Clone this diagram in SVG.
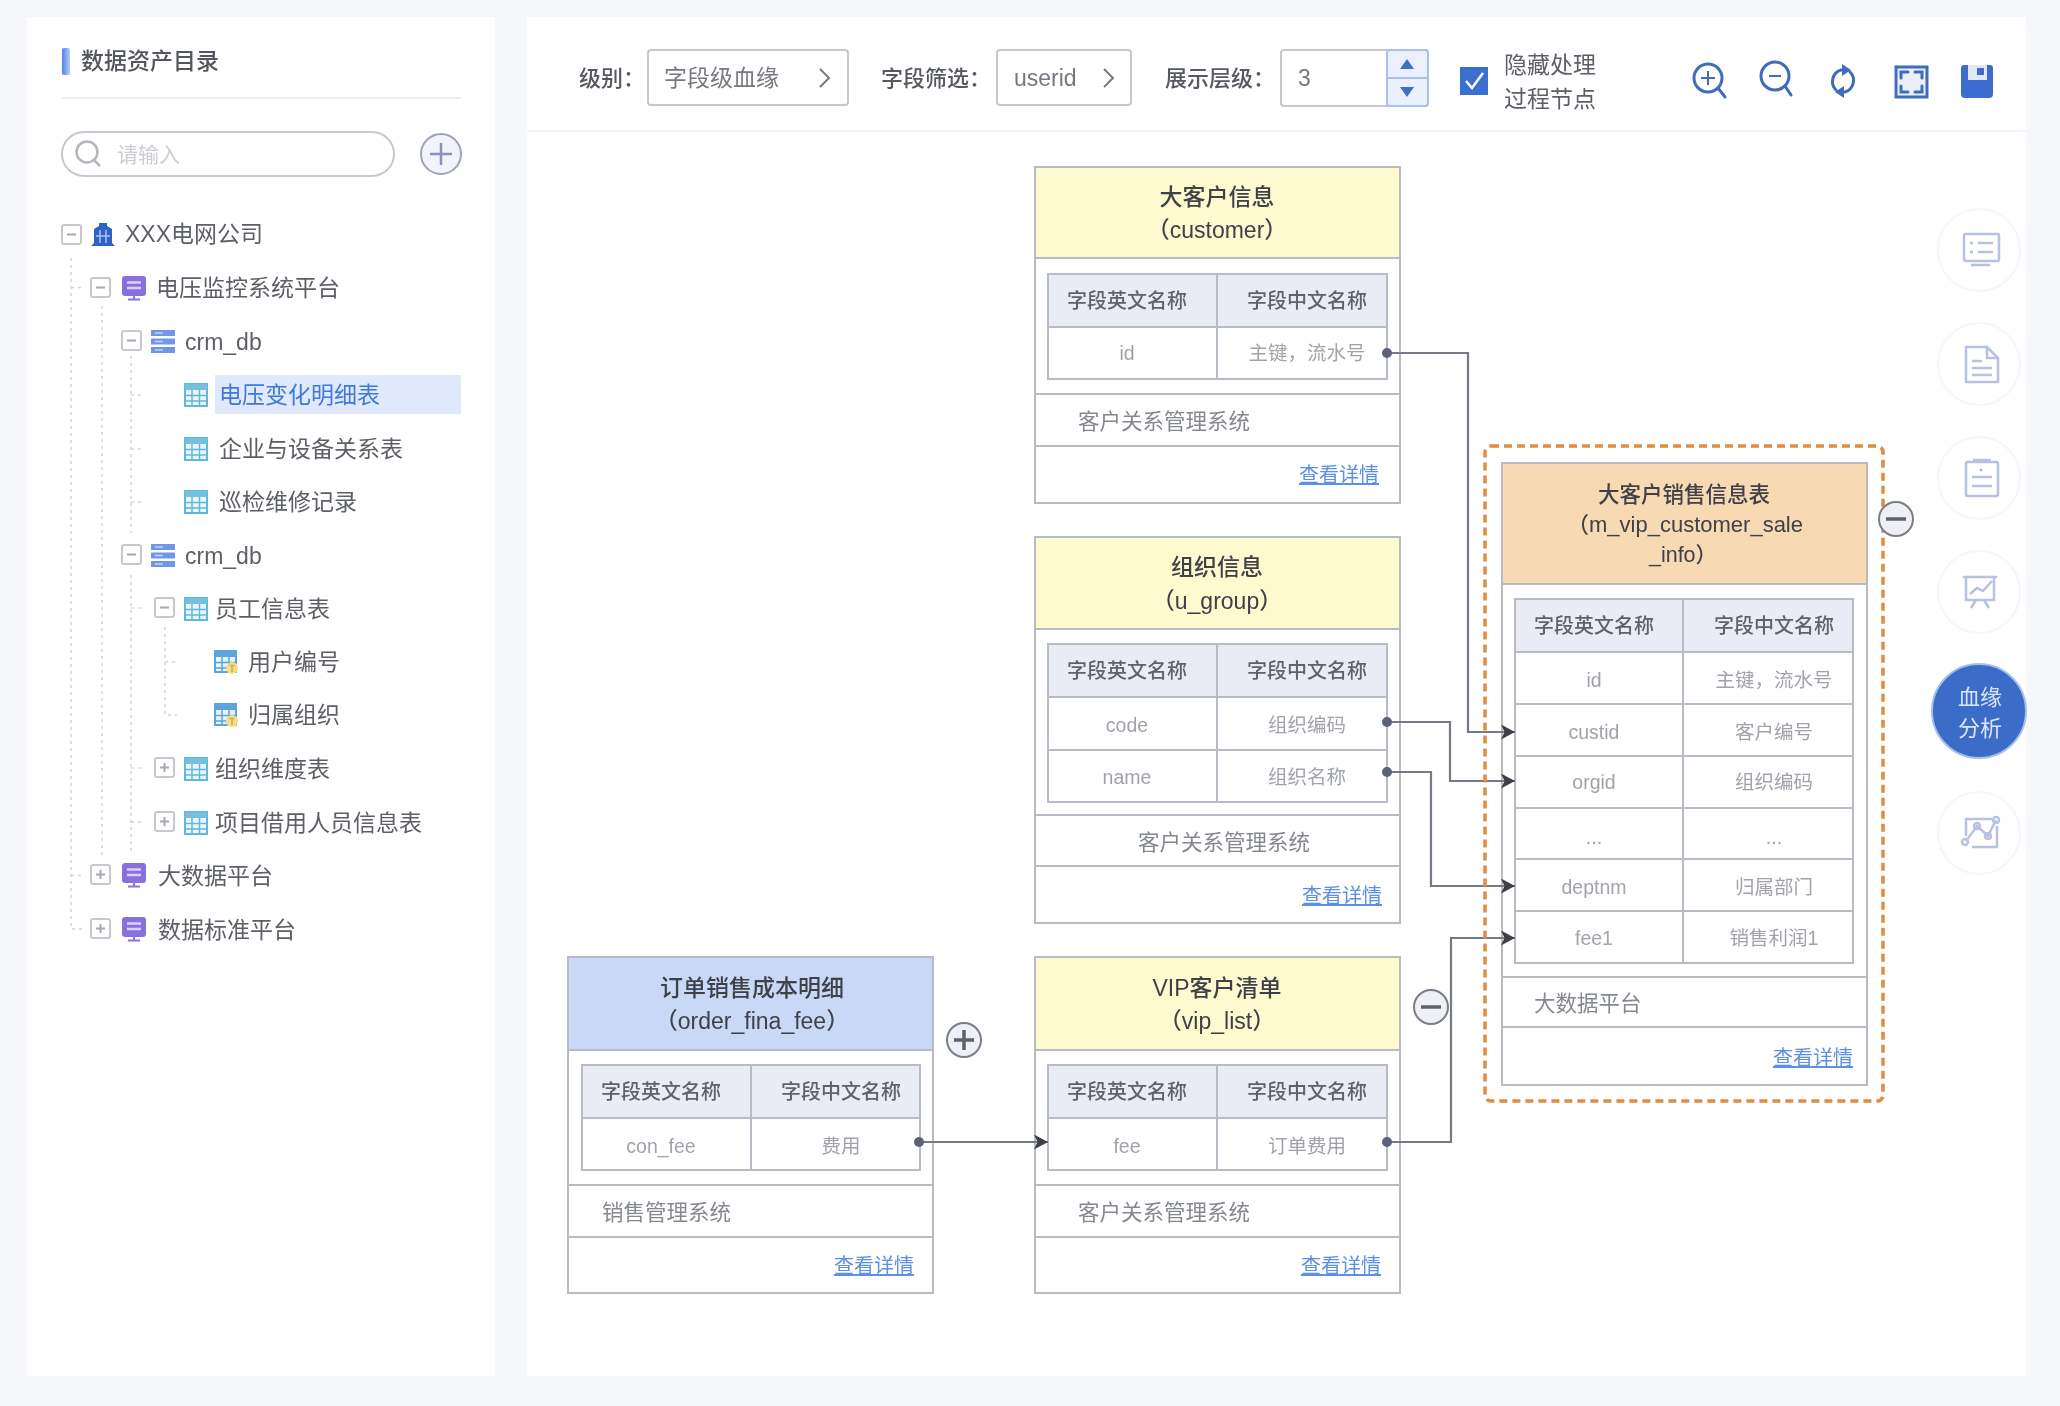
<svg xmlns="http://www.w3.org/2000/svg" width="2060" height="1406" viewBox="0 0 2060 1406">
<style>
text{font-family:"Liberation Sans","Noto Sans CJK SC",sans-serif;}
.t23{font-size:23px;fill:#5c5f66;}
.lbl{font-size:22px;fill:#55585f;font-weight:500;}
.sel{font-size:23px;fill:#75787f;}
.title{font-size:23px;fill:#3f4147;font-weight:500;text-anchor:middle;}
.title2{font-size:21.5px;fill:#3f4147;font-weight:500;text-anchor:middle;}
.th{font-size:20px;fill:#5f626a;font-weight:500;text-anchor:middle;}
.td{font-size:19.5px;fill:#a0a3aa;text-anchor:middle;}
.sys{font-size:21.5px;fill:#85888f;}
.link{font-size:20px;fill:#5b8fe6;text-decoration:underline;}
.card{fill:#fff;stroke:#b9bbc3;stroke-width:2;}
.line{stroke:#b9bbc4;stroke-width:2;fill:none;}
.thbg{fill:#e9ecf5;}
.yellow{fill:#fdfad0;}
.conn{fill:none;stroke:#757988;stroke-width:2.2;marker-end:url(#arrow);marker-start:url(#dot);}
.dash{fill:none;stroke:#d4d6dc;stroke-width:1.5;stroke-dasharray:3 4;}
.boxi{fill:#fff;stroke:#c6c8ce;stroke-width:2;}
.boxs{stroke:#a5a8b0;stroke-width:2;fill:none;}
.tool{fill:none;stroke:#3f6cbc;stroke-width:3;stroke-linecap:round;}
.side{fill:#fff;stroke:#f6f7fa;stroke-width:2;}
.sicon{fill:none;stroke:#b7c2e2;stroke-width:2.5;}
.tog{fill:#eef0f6;stroke:#7a7d88;stroke-width:2;}
.togs{stroke:#5f626c;stroke-width:3.5;fill:none;}
</style>
<defs>
<filter id="soft" filterUnits="userSpaceOnUse" x="0" y="0" width="2060" height="1406"><feGaussianBlur stdDeviation="0.55"/></filter>
<linearGradient id="barg" x1="0" x2="1" y1="0" y2="0"><stop offset="0" stop-color="#4f82e6"/><stop offset="1" stop-color="#b9cdf5"/></linearGradient>
<marker id="arrow" markerUnits="userSpaceOnUse" markerWidth="17" markerHeight="16" refX="14" refY="7.500" orient="auto"><path d="M0 0L14 7.500L0 15L3.500 7.500z" fill="#3e4048"/></marker>
<marker id="dot" markerUnits="userSpaceOnUse" markerWidth="12" markerHeight="12" refX="6" refY="6"><circle cx="6" cy="6" r="5" fill="#5d6278"/></marker>
<g id="minus"><rect class="boxi" x="0" y="0" width="19" height="19" rx="2"/><path class="boxs" d="M5 9.500H14"/></g>
<g id="plus"><rect class="boxi" x="0" y="0" width="19" height="19" rx="2"/><path class="boxs" d="M5 9.500H14M9.500 5V14"/></g>
<g id="tbl"><rect x="1" y="1" width="22" height="22" fill="#eaf6fb" stroke="#62b8d8" stroke-width="2"/><rect x="1" y="1" width="22" height="6" fill="#74bfdf"/><path d="M8 7V23M15.500 7V23M1 12.500H23M1 18H23" stroke="#62b8d8" stroke-width="1.500" fill="none"/></g>
<g id="fld"><rect x="1" y="1" width="21" height="21" fill="#eaf3fb" stroke="#5aa5dc" stroke-width="2"/><rect x="1" y="1" width="21" height="6" fill="#5aa5dc"/><path d="M8 7V22M15 7V22M1 12.500H22M1 18H22" stroke="#5aa5dc" stroke-width="1.500" fill="none"/><circle cx="18" cy="18" r="6" fill="#f7dc8a"/><path d="M18 16V22M15.500 15.500H20.500" stroke="#d9ab3a" stroke-width="1.500"/></g>
<g id="mon"><rect x="0" y="0" width="24" height="20" rx="3" fill="#8a70dc"/><path d="M5 6.500H19M5 12H19" stroke="#d9d0f7" stroke-width="2.500"/><path d="M12 20V23M6 23.500H18" stroke="#8a70dc" stroke-width="2"/></g>
<g id="db"><rect x="0" y="0" width="24" height="6" fill="#7196e6"/><rect x="0" y="8.500" width="24" height="6" fill="#7196e6"/><rect x="0" y="17" width="24" height="6" fill="#7196e6"/><path d="M4 3H12M4 11.500H12M4 20H12" stroke="#c5d4f5" stroke-width="1.500"/></g>
</defs>

<g filter="url(#soft)">
<rect id="bg" width="2060" height="1406" fill="#f5f7fb"/>

<g id="left-panel">
<rect x="27" y="17" width="468" height="1359" fill="#fff"/>
<rect x="62" y="48" width="8" height="27" rx="2" fill="url(#barg)"/>
<text x="81" y="69" style="font-size:23px;fill:#53565d;font-weight:500">数据资产目录</text>
<path d="M62 98H461" stroke="#eceef1" stroke-width="2"/>
<rect x="62" y="132" width="332" height="44" rx="22" fill="#fff" stroke="#c8c9d0" stroke-width="2"/>
<circle cx="87" cy="152" r="10.500" fill="none" stroke="#b5b7be" stroke-width="2.500"/><path d="M94 160L100 166" stroke="#b5b7be" stroke-width="2.500"/>
<text x="117" y="162" style="font-size:21px;fill:#ccced3">请输入</text>
<circle cx="441" cy="154" r="20" fill="#f3f4fa" stroke="#9ea2b6" stroke-width="2"/><path d="M430 154H452M441 143V165" stroke="#8a90c0" stroke-width="2.500"/>
</g>

<g id="tree-lines">
<path class="dash" d="M71 258V929H82M71 287.500H82M71 875.500H82"/>
<path class="dash" d="M102 306V855"/>
<path class="dash" d="M131 356V533M131 395H143M131 449H143M131 502H143M131 575V855M131 608H143M131 768H143M131 822H143"/>
<path class="dash" d="M165 627V715H177M165 662H177"/>
</g>

<g id="tree-root"><use href="#minus" x="62" y="225"/>
<path d="M91 246L94 243V229L99 226V223H107V226L112 229V243L115 246z" fill="#2f62c6"/><path d="M100 230V243M106 230V243M96 236H110" stroke="#a9c4f0" stroke-width="1.500"/>
<text class="t23" x="125" y="242">XXX电网公司</text></g>
<g id="tree-platform1"><use href="#minus" x="91" y="278"/><use href="#mon" x="122" y="276"/><text class="t23" x="156" y="296">电压监控系统平台</text></g>
<g id="tree-db1"><use href="#minus" x="122" y="331"/><use href="#db" x="151" y="330"/><text class="t23" x="185" y="350">crm_db</text></g>
<g id="tree-voltage"><rect x="215" y="375" width="246" height="39" fill="#dfe9fb"/><use href="#tbl" x="184" y="383"/><text class="t23" x="219" y="403" style="fill:#3f7ad6">电压变化明细表</text></g>
<g id="tree-enterprise"><use href="#tbl" x="184" y="437"/><text class="t23" x="219" y="457">企业与设备关系表</text></g>
<g id="tree-patrol"><use href="#tbl" x="184" y="490"/><text class="t23" x="219" y="510">巡检维修记录</text></g>
<g id="tree-db2"><use href="#minus" x="122" y="545"/><use href="#db" x="151" y="544"/><text class="t23" x="185" y="564">crm_db</text></g>
<g id="tree-staff"><use href="#minus" x="155" y="598"/><use href="#tbl" x="184" y="597"/><text class="t23" x="215" y="617">员工信息表</text></g>
<g id="tree-userid"><use href="#fld" x="214" y="650"/><text class="t23" x="248" y="670">用户编号</text></g>
<g id="tree-org"><use href="#fld" x="214" y="703"/><text class="t23" x="248" y="723">归属组织</text></g>
<g id="tree-orgdim"><use href="#plus" x="155" y="758"/><use href="#tbl" x="184" y="757"/><text class="t23" x="215" y="777">组织维度表</text></g>
<g id="tree-project"><use href="#plus" x="155" y="812"/><use href="#tbl" x="184" y="811"/><text class="t23" x="215" y="831">项目借用人员信息表</text></g>
<g id="tree-bigdata"><use href="#plus" x="91" y="865"/><use href="#mon" x="122" y="863"/><text class="t23" x="158" y="884">大数据平台</text></g>
<g id="tree-standard"><use href="#plus" x="91" y="919"/><use href="#mon" x="122" y="917"/><text class="t23" x="158" y="938">数据标准平台</text></g>

<g id="right-panel">
<rect x="527" y="17" width="1499" height="1359" fill="#fff"/>
<path d="M527 131H2026" stroke="#f1f3f7" stroke-width="2"/>
</g>

<g id="toolbar">
<text class="lbl" x="579" y="86">级别：</text>
<rect x="648" y="50" width="200" height="55" rx="3" fill="#fff" stroke="#c6c8cd" stroke-width="2"/>
<text class="sel" x="664" y="86">字段级血缘</text>
<path d="M820 69L829 78L820 87" fill="none" stroke="#777a80" stroke-width="2"/>
<text class="lbl" x="881" y="86">字段筛选：</text>
<rect x="997" y="50" width="134" height="55" rx="3" fill="#fff" stroke="#c6c8cd" stroke-width="2"/>
<text class="sel" x="1014" y="86">userid</text>
<path d="M1104 69L1113 78L1104 87" fill="none" stroke="#777a80" stroke-width="2"/>
<text class="lbl" x="1165" y="86">展示层级：</text>
<rect x="1281" y="50" width="147" height="56" rx="3" fill="#fff" stroke="#c6c8cd" stroke-width="2"/>
<text class="sel" x="1298" y="86">3</text>
<rect x="1387" y="50" width="41" height="56" rx="3" fill="#eaf0fc" stroke="#a9c0ee" stroke-width="2"/>
<path d="M1387 78H1428" stroke="#a9c0ee" stroke-width="2"/>
<path d="M1407 59L1414 69H1400z" fill="#3f6dc8"/><path d="M1407 97L1414 87H1400z" fill="#3f6dc8"/>
<rect x="1460" y="67" width="28" height="28" fill="#3b6fd0"/><path d="M1466 81L1472 88L1483 73" fill="none" stroke="#fff" stroke-width="2.500"/>
<text class="t23" x="1504" y="73">隐藏处理</text>
<text class="t23" x="1504" y="107">过程节点</text>
<circle class="tool" cx="1708" cy="78" r="14"/><path class="tool" d="M1718 88L1725 97"/><path d="M1701 78H1715M1708 71V85" stroke="#3f6cbc" stroke-width="2"/>
<circle class="tool" cx="1775" cy="76" r="14"/><path class="tool" d="M1785 86L1791 95"/><path d="M1769 76H1781" stroke="#3f6cbc" stroke-width="2"/>
<path class="tool" d="M1836 90A12 12 0 0 1 1841 70M1850 72A12 12 0 0 1 1845 92"/><path d="M1842 64V76L1851 70zM1844 86V98L1835 92z" fill="#3f6cbc"/>
<rect x="1896" y="67" width="31" height="30" fill="#eaf0fa" stroke="#3f6cbc" stroke-width="3"/><path class="tool" d="M1901 78V72H1908M1915 72H1922V78M1922 86V92H1915M1908 92H1901V86"/>
<path d="M1964 65H1990A3 3 0 0 1 1993 68V94A4 4 0 0 1 1989 98H1965A4 4 0 0 1 1961 94V68A3 3 0 0 1 1964 65z" fill="#3d6cd0"/><path d="M1968 65H1987V80H1968z" fill="#dfe7f8"/><rect x="1977" y="68" width="7" height="7" fill="#3d6cd0"/>
</g>

<g id="side-icons">
<circle class="side" cx="1979" cy="250" r="41"/>
<rect class="sicon" x="1964" y="234" width="35" height="27" rx="2"/><path class="sicon" d="M1971 265H1990M1970 243H1973M1978 243H1993M1970 252H1973M1978 252H1993"/>
<circle class="side" cx="1979" cy="364" r="41"/>
<path class="sicon" d="M1966 347H1987L1998 358V382H1966zM1987 347V358H1998M1972 361H1982M1972 368H1992M1972 375H1992"/>
<circle class="side" cx="1979" cy="478" r="41"/>
<rect class="sicon" x="1966" y="462" width="32" height="34" rx="2"/><path class="sicon" d="M1973 460H1991M1972 477H1992M1972 486H1992"/><circle cx="1981" cy="470" r="1.500" fill="#a9b6dc"/>
<circle class="side" cx="1979" cy="592" r="41"/>
<path class="sicon" d="M1963 577H1997M1966 577V600H1994V577M1970 594L1977 588L1983 591L1992 581M1976 600L1971 608M1984 600L1989 608"/>
<circle cx="1979" cy="711" r="47" fill="#3b6cc8" stroke="#a5c0f0" stroke-width="2"/>
<text x="1980" y="705" text-anchor="middle" style="font-size:22px;fill:#dce6fa">血缘</text>
<text x="1980" y="736" text-anchor="middle" style="font-size:22px;fill:#dce6fa">分析</text>
<circle class="side" cx="1979" cy="833" r="41"/>
<path class="sicon" d="M1966 836V819H1992M1997 826V847H1972M1966 841L1977 826L1988 836L1996 820"/><circle class="sicon" cx="1965" cy="842" r="3"/><circle class="sicon" cx="1977" cy="826" r="3"/><circle class="sicon" cx="1988" cy="836" r="3"/><circle class="sicon" cx="1996" cy="820" r="3"/>
</g>

<g id="node-customer">
<rect class="card" x="1035" y="167" width="365" height="336"/>
<rect class="yellow" x="1036" y="168" width="363" height="90"/>
<path class="line" d="M1035 258H1400M1035 394H1400M1035 446H1400"/>
<rect class="thbg" x="1048" y="274" width="339" height="53"/>
<rect class="line" x="1048" y="274" width="339" height="105"/>
<path class="line" d="M1048 327H1387M1217 274V379"/>
<text class="title" x="1217" y="205">大客户信息</text>
<text class="title" x="1217" y="238">（customer）</text>
<text class="th" x="1127" y="308">字段英文名称</text><text class="th" x="1307" y="308">字段中文名称</text>
<text class="td" x="1127" y="360">id</text><text class="td" x="1307" y="360">主键，流水号</text>
<text class="sys" x="1078" y="429">客户关系管理系统</text>
<text class="link" x="1299" y="482">查看详情</text>
</g>

<g id="node-u-group">
<rect class="card" x="1035" y="537" width="365" height="386"/>
<rect class="yellow" x="1036" y="538" width="363" height="91"/>
<path class="line" d="M1035 629H1400M1035 815H1400M1035 866H1400"/>
<rect class="thbg" x="1048" y="644" width="339" height="53"/>
<rect class="line" x="1048" y="644" width="339" height="158"/>
<path class="line" d="M1048 697H1387M1048 750H1387M1217 644V802"/>
<text class="title" x="1217" y="575">组织信息</text>
<text class="title" x="1217" y="609">（u_group）</text>
<text class="th" x="1127" y="678">字段英文名称</text><text class="th" x="1307" y="678">字段中文名称</text>
<text class="td" x="1127" y="732">code</text><text class="td" x="1307" y="732">组织编码</text>
<text class="td" x="1127" y="784">name</text><text class="td" x="1307" y="784">组织名称</text>
<text class="sys" x="1138" y="850">客户关系管理系统</text>
<text class="link" x="1302" y="903">查看详情</text>
</g>

<g id="node-order">
<rect class="card" x="568" y="957" width="365" height="336"/>
<rect x="569" y="958" width="363" height="92" fill="#c9d8f7"/>
<path class="line" d="M568 1050H933M568 1185H933M568 1237H933"/>
<rect class="thbg" x="582" y="1065" width="338" height="53"/>
<rect class="line" x="582" y="1065" width="338" height="105"/>
<path class="line" d="M582 1118H920M751 1065V1170"/>
<text class="title" x="752" y="996">订单销售成本明细</text>
<text class="title" x="752" y="1029">（order_fina_fee）</text>
<text class="th" x="661" y="1099">字段英文名称</text><text class="th" x="841" y="1099">字段中文名称</text>
<text class="td" x="661" y="1153">con_fee</text><text class="td" x="841" y="1153">费用</text>
<text class="sys" x="602" y="1220">销售管理系统</text>
<text class="link" x="834" y="1273">查看详情</text>
</g>

<g id="node-vip">
<rect class="card" x="1035" y="957" width="365" height="336"/>
<rect class="yellow" x="1036" y="958" width="363" height="92"/>
<path class="line" d="M1035 1050H1400M1035 1185H1400M1035 1237H1400"/>
<rect class="thbg" x="1048" y="1065" width="339" height="53"/>
<rect class="line" x="1048" y="1065" width="339" height="105"/>
<path class="line" d="M1048 1118H1387M1217 1065V1170"/>
<text class="title" x="1217" y="996">VIP客户清单</text>
<text class="title" x="1217" y="1029">（vip_list）</text>
<text class="th" x="1127" y="1099">字段英文名称</text><text class="th" x="1307" y="1099">字段中文名称</text>
<text class="td" x="1127" y="1153">fee</text><text class="td" x="1307" y="1153">订单费用</text>
<text class="sys" x="1078" y="1220">客户关系管理系统</text>
<text class="link" x="1301" y="1273">查看详情</text>
</g>

<g id="node-target">
<rect class="card" x="1502" y="463" width="365" height="622"/>
<rect x="1503" y="464" width="363" height="120" fill="#f7d9b3"/>
<path class="line" d="M1502 584H1867M1502 977H1867M1502 1027H1867"/>
<rect class="thbg" x="1515" y="599" width="338" height="53"/>
<rect class="line" x="1515" y="599" width="338" height="364"/>
<path class="line" d="M1515 652H1853M1515 704H1853M1515 756H1853M1515 808H1853M1515 859H1853M1515 911H1853M1683 599V963"/>
<text class="title2" x="1684" y="502">大客户销售信息表</text>
<text class="title2" x="1685" y="532" style="font-size:22px">（m_vip_customer_sale</text>
<text class="title2" x="1683" y="562">_info）</text>
<text class="th" x="1594" y="633">字段英文名称</text><text class="th" x="1774" y="633">字段中文名称</text>
<text class="td" x="1594" y="687">id</text><text class="td" x="1774" y="687">主键，流水号</text>
<text class="td" x="1594" y="739">custid</text><text class="td" x="1774" y="739">客户编号</text>
<text class="td" x="1594" y="789">orgid</text><text class="td" x="1774" y="789">组织编码</text>
<text class="td" x="1594" y="844">...</text><text class="td" x="1774" y="844">...</text>
<text class="td" x="1594" y="894">deptnm</text><text class="td" x="1774" y="894">归属部门</text>
<text class="td" x="1594" y="945">fee1</text><text class="td" x="1774" y="945">销售利润1</text>
<text class="sys" x="1534" y="1011">大数据平台</text>
<text class="link" x="1773" y="1065">查看详情</text>
</g>

<g id="connectors">
<path class="conn" d="M1387 353H1468V732H1515"/>
<path class="conn" d="M1387 722H1450V781H1515"/>
<path class="conn" d="M1387 772H1431V886H1515"/>
<path class="conn" d="M919 1142H1048"/>
<path class="conn" d="M1387 1142H1451V938H1515"/>
</g>

<g id="highlight">
<rect x="1485" y="446" width="398" height="655" rx="6" fill="none" stroke="#e08c42" stroke-width="3.500" stroke-dasharray="8 5"/>
</g>

<g id="toggle-target"><circle class="tog" cx="1896" cy="519" r="17"/><path class="togs" d="M1886 519H1906"/></g>
<g id="toggle-vip"><circle class="tog" cx="1431" cy="1007" r="17"/><path class="togs" d="M1421 1007H1441"/></g>
<g id="toggle-order"><circle class="tog" cx="964" cy="1040" r="17"/><path class="togs" d="M954 1040H974M964 1030V1050"/></g>
</g>
</svg>
